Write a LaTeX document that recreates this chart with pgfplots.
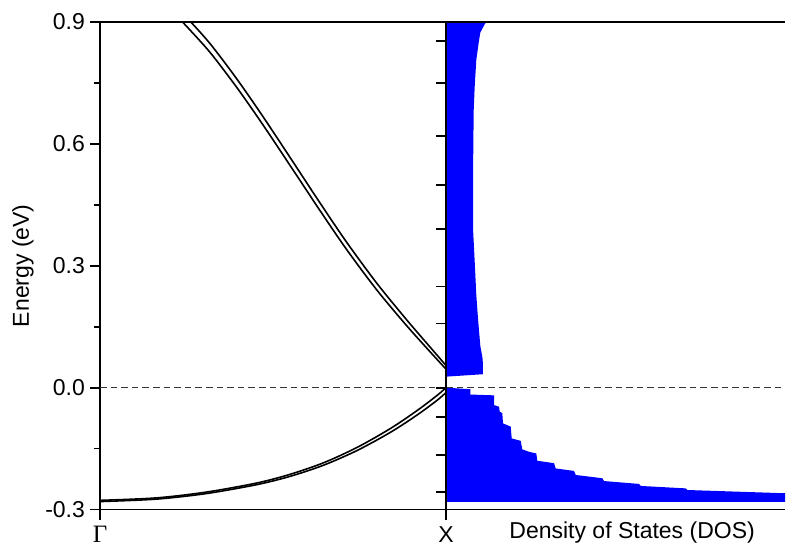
\documentclass[border=0pt]{standalone}
\usepackage{fontspec}
\setmainfont{Liberation Sans}
\newfontfamily\seriffont{Liberation Serif}
\usepackage{pgfplots}
\pgfplotsset{compat=1.18}

\definecolor{dosblue}{RGB}{0,0,255}

\begin{document}
\fontsize{11.5}{13}\selectfont
\begin{tikzpicture}
\pgfplotsset{
  panel/.style={
    scale only axis, height=243.75pt,
    ymin=-0.3, ymax=0.9,
    axis lines*=left,
    tick align=outside,
    axis line style={line width=0.9pt, black},
    every tick/.style={line width=0.9pt, black},
    major tick length=5pt, minor tick length=3pt,
    tick label style={font=\fontsize{11.5}{13}\selectfont},
    label style={font=\fontsize{11.5}{13}\selectfont},
  },
  band/.style={black, line width=0.8pt, smooth, no markers},
  fermi/.style={black!80, line width=0.65pt, dash pattern=on 3.3pt off 2pt},
}
% band structure, Gamma -> X
\begin{axis}[panel, name=bands, width=173pt,
  xmin=0, xmax=1,
  xtick={0,1}, xticklabels={{\seriffont\fontsize{12.5}{13}\selectfont Γ}, X},
  xticklabel style={yshift=0.5pt},
  ytick={-0.3,0,0.3,0.6,0.9},
  yticklabels={-0.3,0.0,0.3,0.6,0.9},
  yticklabel style={xshift=1.5pt},
  minor ytick={-0.15,0.15,0.45,0.75},
  ylabel={Energy (eV)},
  ylabel style={at={(axis description cs:-0.2225,0.5)}, anchor=center},
]
% upper pair of bands
\addplot[band] coordinates {(0.22,0.938) (0.2506,0.911) (0.318,0.8468) (0.395,0.7603) (0.471,0.6672) (0.558,0.5554) (0.636,0.4544) (0.713,0.3577) (0.800,0.2570) (0.886,0.1672) (0.954,0.0998) (1.0,0.0545)};
\addplot[band] coordinates {(0.22,0.916) (0.2506,0.889) (0.318,0.8252) (0.395,0.7393) (0.471,0.6468) (0.558,0.5358) (0.636,0.4356) (0.713,0.3397) (0.800,0.2404) (0.886,0.1528) (0.954,0.0882) (1.0,0.0455)};
% lower pair of bands
\addplot[band] coordinates {(0,-0.2775) (0.162,-0.2715) (0.307,-0.2572) (0.452,-0.235) (0.549,-0.2135) (0.646,-0.185) (0.743,-0.1472) (0.840,-0.1003) (0.918,-0.0555) (0.976,-0.018) (1,0.000)};
\addplot[band] coordinates {(0,-0.2805) (0.162,-0.2745) (0.307,-0.2608) (0.452,-0.239) (0.549,-0.2185) (0.646,-0.191) (0.743,-0.1548) (0.840,-0.1097) (0.918,-0.0665) (0.976,-0.030) (1,-0.012)};
\addplot[fermi] coordinates {(0,0) (1,0)};
\draw[line width=0.9pt] (rel axis cs:0,1) -- (rel axis cs:1,1);
\end{axis}

% density of states
\begin{axis}[panel, name=dos, width=169.5pt, axis on top,
  at={(bands.south east)}, anchor=south west,
  xmin=0, xmax=339,
  xtick=\empty,
  ytick={-0.256,-0.166,-0.072,0,0.158,0.249,0.391,0.499,0.620,0.749,0.853},
  yticklabels={},
  xlabel={Density of States (DOS)},
  xlabel style={at={(axis description cs:0.549,0)}, anchor=center, yshift=-11.5pt},
]
\addplot[fill=dosblue, draw=none] coordinates {
  (0,0.027) (37,0.033) (36.7,0.070) (34.3,0.103) (32,0.170) (30.3,0.228)
  (28.7,0.310) (27,0.393) (27,0.518) (27.7,0.683) (28.7,0.741) (30.3,0.807)
  (32.7,0.849) (34.3,0.874) (36,0.882) (39.3,0.897) (41,0.9) (0,0.9)} -- cycle;
\addplot[fill=dosblue, draw=none] coordinates {
  (0,0.0) (24.3,-0.004) (24.3,-0.017) (48,-0.019) (48,-0.043) (53,-0.047)
  (53.7,-0.059) (56.3,-0.063) (57,-0.088) (64.7,-0.096) (65.7,-0.125)
  (74.7,-0.131) (76.3,-0.152) (83,-0.158) (90.3,-0.162) (91.3,-0.180)
  (108,-0.186) (109.7,-0.199) (128,-0.205) (129.7,-0.215) (156.3,-0.223)
  (158,-0.230) (193,-0.237) (194.7,-0.242) (239.7,-0.248) (241.3,-0.252)
  (339,-0.260) (339,-0.281) (0,-0.281)} -- cycle;
\addplot[fermi] coordinates {(0,0) (339,0)};
\draw[line width=0.9pt] (rel axis cs:0,1) -- (rel axis cs:1,1);
\end{axis}

\pgfresetboundingbox
\path[use as bounding box] ([xshift=-50pt,yshift=-18.25pt]bands.south west) rectangle ([xshift=343pt,yshift=254.75pt]bands.south west);
\end{tikzpicture}
\end{document}
